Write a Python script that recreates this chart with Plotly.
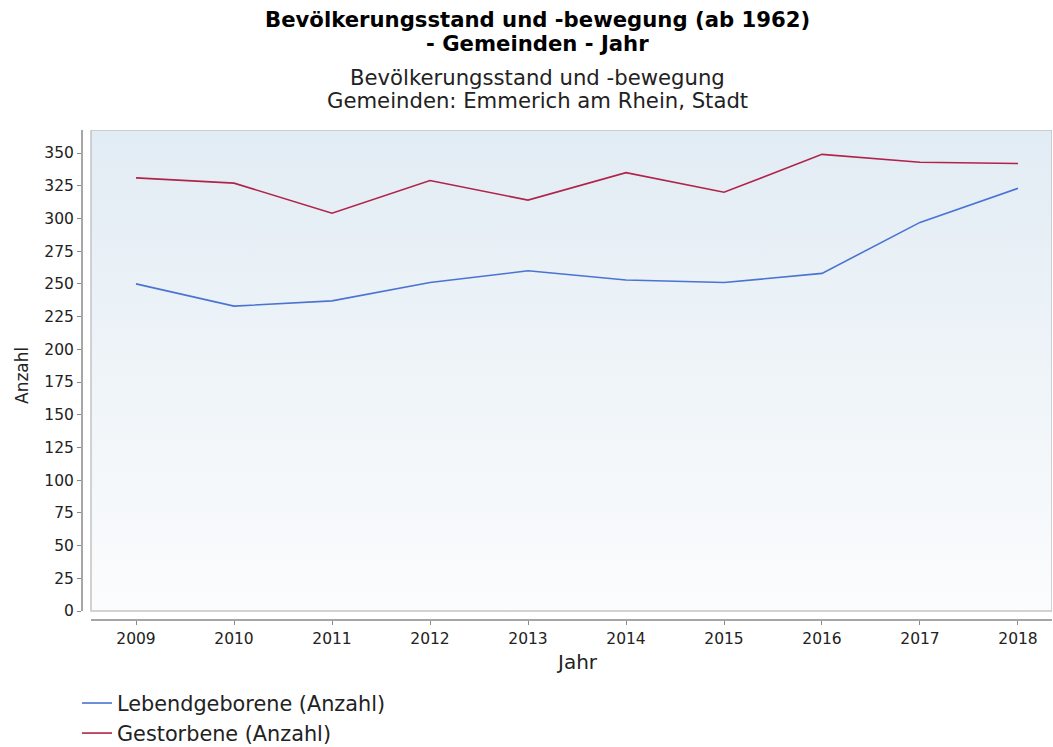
import plotly.graph_objects as go

years = [2009, 2010, 2011, 2012, 2013, 2014, 2015, 2016, 2017, 2018]
lebendgeborene = [250, 233, 237, 251, 260, 253, 251, 258, 297, 323]
gestorbene = [331, 327, 304, 329, 314, 335, 320, 349, 343, 342]
y_ticks = list(range(0, 351, 25))

W, H = 1053, 747
L, R, T, B = 82, 1, 130, 127
x_range = [2008.449, 2018.347]
y_range = [-6.88, 367.6]
plot_left_x = 2008.541  # inner plot border (offset from axis)

fig = go.Figure()

# gradient background of the inner plot area
fig.add_trace(go.Scatter(
    x=[plot_left_x, x_range[1], x_range[1], plot_left_x, plot_left_x],
    y=[0, 0, y_range[1], y_range[1], 0],
    mode="lines", line=dict(width=0), fill="toself",
    fillgradient=dict(type="vertical", start=0, stop=y_range[1],
                      colorscale=[[0, "#fbfcfd"], [1, "#e2ecf4"]]),
    hoverinfo="skip", showlegend=False,
))

fig.add_trace(go.Scatter(x=years, y=lebendgeborene, mode="lines",
                         name="Lebendgeborene (Anzahl)",
                         line=dict(color="#4a74d2", width=1.6)))
fig.add_trace(go.Scatter(x=years, y=gestorbene, mode="lines",
                         name="Gestorbene (Anzahl)",
                         line=dict(color="#b0234a", width=1.6)))

# plot border
fig.add_shape(type="rect", xref="x", yref="y", x0=plot_left_x, x1=x_range[1],
              y0=0, y1=y_range[1], line=dict(color="#c4c4c4", width=1.5),
              fillcolor="rgba(0,0,0,0)", layer="above")
# axis lines (offset)
fig.add_shape(type="line", xref="paper", yref="y", x0=0, x1=0, y0=0, y1=y_range[1],
              line=dict(color="#888888", width=1.5))
fig.add_shape(type="line", xref="x", yref="paper", x0=plot_left_x, x1=x_range[1], y0=0, y1=0,
              line=dict(color="#888888", width=1.5))

tick_font = dict(family="DejaVu Sans", size=15.5, color="#222222")
fig.update_xaxes(range=x_range, tickmode="array", tickvals=years,
                 ticktext=[str(y) for y in years], ticks="outside", ticklen=4,
                 tickcolor="#888888", tickfont=tick_font, showline=False,
                 showgrid=True, gridcolor="rgba(255,255,255,0.9)", griddash="dot",
                 zeroline=False, fixedrange=True, automargin=False)
fig.update_yaxes(range=y_range, tickmode="array", tickvals=y_ticks,
                 ticks="outside", ticklen=4, tickcolor="#888888", tickfont=tick_font,
                 showline=False, showgrid=True, gridcolor="rgba(255,255,255,0.9)",
                 griddash="dot", zeroline=False, fixedrange=True, automargin=False)

def px_x(px):
    return (px - L) / (W - L - R)

def px_y(py):
    return (H - B - py) / (H - T - B)

ann = []
title_font = dict(family="DejaVu Sans", size=21.2, color="#000000")
sub_font = dict(family="DejaVu Sans", size=21.2, color="#222222")
ann.append(dict(text="<b>Bevölkerungsstand und -bewegung (ab 1962)</b>", x=px_x(537), y=px_y(20),
                font=title_font))
ann.append(dict(text="<b>- Gemeinden - Jahr</b>", x=px_x(537), y=px_y(44), font=title_font))
ann.append(dict(text="Bevölkerungsstand und -bewegung", x=px_x(537), y=px_y(77), font=sub_font))
ann.append(dict(text="Gemeinden: Emmerich am Rhein, Stadt", x=px_x(537), y=px_y(101), font=sub_font))
ann.append(dict(text="Jahr", x=px_x(577), y=px_y(662),
                font=dict(family="DejaVu Sans", size=20, color="#222222")))
ann.append(dict(text="Anzahl", x=px_x(22), y=px_y(376), textangle=-90,
                font=dict(family="DejaVu Sans", size=17, color="#222222")))
for a in ann:
    a.update(xref="paper", yref="paper", showarrow=False, xanchor="center", yanchor="middle")

fig.update_layout(
    width=W, height=H, autosize=False,
    margin=dict(l=L, r=R, t=T, b=B, autoexpand=False),
    paper_bgcolor="white", plot_bgcolor="white",
    annotations=ann,
    legend=dict(x=px_x(77), y=px_y(683), xanchor="left", yanchor="top",
                orientation="v", font=dict(family="DejaVu Sans", size=20.8, color="#222222"),
                bgcolor="rgba(0,0,0,0)", itemwidth=30, tracegroupgap=0),
    showlegend=True,
)

fig.write_html(
    "out.html",
    config={"displayModeBar": False},
    post_script="document.body.style.margin='0';document.body.style.overflow='hidden';",
)
